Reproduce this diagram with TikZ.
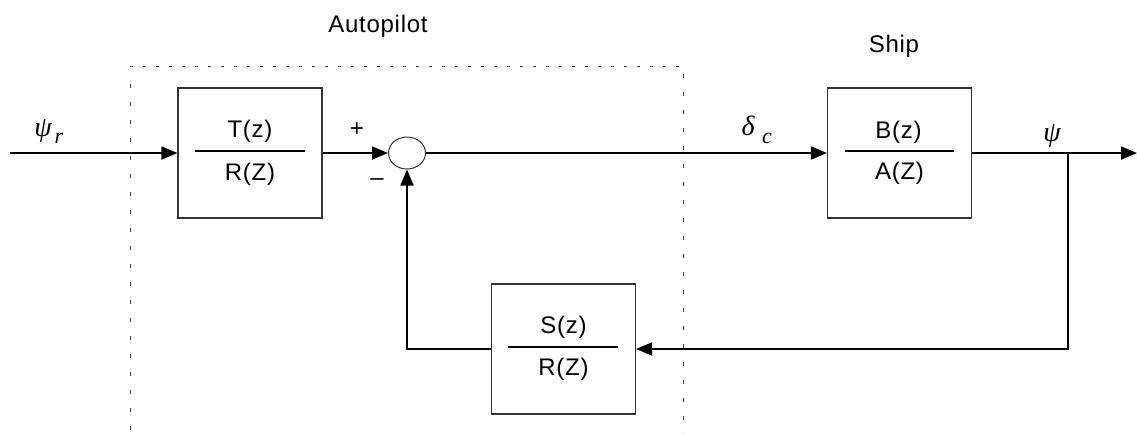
\documentclass[tikz,border=0pt]{standalone}
\usepackage{fontspec}
\setmainfont{Liberation Sans}[LetterSpace=3]
\newfontfamily\grk{Liberation Serif}
\usetikzlibrary{arrows.meta,shapes.geometric,calc}
\begin{document}
\begin{tikzpicture}[x=1pt,y=-1pt,
  blk/.style={draw=black!80,line width=1.1pt,minimum width=144pt,minimum height=130pt,inner sep=0pt},
  sig/.style={line width=1.8pt,-{Triangle[length=16pt,width=13pt]}},
  bar/.style={line width=2pt},
  txt/.style={font=\fontsize{24}{28}\selectfont,inner sep=0pt},
  mth/.style={font=\fontsize{28}{32}\selectfont\grk\itshape,inner sep=0pt},
  sub/.style={font=\fontsize{22}{26}\selectfont\grk\itshape,inner sep=0pt},
  dotbox/.style={draw=black!75,line width=1pt}
]
\useasboundingbox (0,0) rectangle (1137,434);
% dotted autopilot frame
\draw[dotbox,dash pattern=on 3pt off 10pt] (130,66) -- (683,66);
\draw[dotbox,dash pattern=on 4pt off 14pt] (130,84) -- (130,434);
\draw[dotbox,dash pattern=on 4pt off 14pt] (683,74) -- (683,434);

% blocks
\node[blk] (T) at (250,153) {};
\node[blk] (B) at (899.5,153) {};
\node[blk] (S) at (563.5,349) {};
\node[draw=black!80,line width=1pt,ellipse,minimum width=37pt,minimum height=32pt,inner sep=0pt] (sum) at (407,153) {};

% fractions
\draw[bar] ($(T.west)+(18,-2)$) -- ($(T.east)+(-18,-2)$);
\node[txt] (Tn) at ($(T.center)+(0,-22)$) {T(z)};
\node[txt] (Td) at ($(T.center)+(0,21)$) {R(Z)};
\draw[bar] ($(B.west)+(18,-2)$) -- ($(B.east)+(-18,-2)$);
\node[txt] (Bn) at ($(B.center)+(-1,-21)$) {B(z)};
\node[txt] (Bd) at ($(B.center)+(0,20)$) {A(Z)};
\draw[bar] ($(S.west)+(17,-2)$) -- ($(S.east)+(-18,-2)$);
\node[txt] (Sn) at ($(S.center)+(0,-22)$) {S(z)};
\node[txt] (Sd) at ($(S.center)+(0,20)$) {R(Z)};

% coordinates
\coordinate (in) at (10,153);
\coordinate (out) at (1137,153);
\coordinate (br) at (1068,153);
\coordinate (brd) at (1068,349);
\coordinate (fbl) at (407,349);

% connectors
\draw[sig] (in) -- (T.west);
\draw[sig] (T.east) -- (sum.west);
\draw[sig] (sum.east) -- (B.west);
\draw[sig] (B.east) -- (out);
\draw[sig] (br) -- (brd) -- (S.east);
\draw[sig] (S.west) -- (fbl) -- (sum.south);

% labels
\node[mth] (psir) at (43,131) {ψ};
\node[sub] (psirs) at (59,138) {r};
\node[txt] (plus) at (357,130) {+};
\node[txt] (minus) at (377,182) {\textendash};
\node[mth] (dc) at (748,126) {δ};
\node[sub] (dcs) at (767,138) {c};
\node[mth] (psi) at (1052,136) {ψ};
\node[txt,anchor=base] (ap) at (378,32) {Autopilot};
\node[txt,anchor=base] (ship) at (894,52) {Ship};
\end{tikzpicture}
\end{document}
